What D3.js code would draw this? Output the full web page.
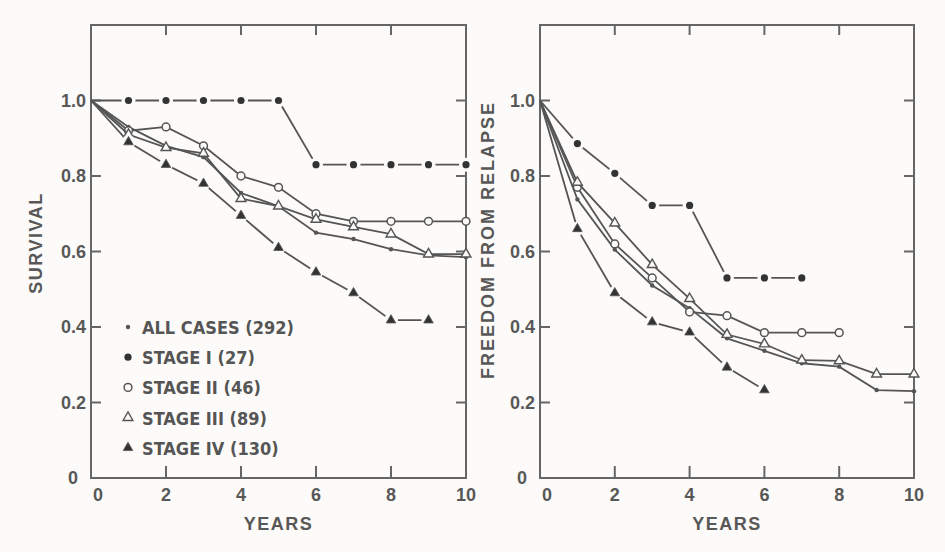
<!DOCTYPE html>
<html>
<head>
<meta charset="utf-8">
<script src="https://cdn.jsdelivr.net/npm/d3@7"></script>
<style>
  body { margin: 0; background: #fdfbf9; }
  svg { display: block; }
  .lbl { font-family: "Liberation Sans", Arial, sans-serif; font-weight: bold; fill: #585858; }
  .leg { font-family: "DejaVu Sans Condensed", sans-serif; font-weight: bold; fill: #555; }
</style>
</head>
<body>
<svg id="chart" width="945" height="552"></svg>
<script>
// years after diagnosis
const years = [0, 1, 2, 3, 4, 5, 6, 7, 8, 9, 10];
const xTicks = [0, 2, 4, 6, 8, 10];
const yTicks = [0, 0.2, 0.4, 0.6, 0.8, 1.0];

// survival (left panel), null = no point
const survAll = [1.0, 0.93, 0.88, 0.85, 0.755, 0.72, 0.65, 0.633, 0.606, 0.59, 0.585];
const survI   = [1.0, 1.0, 1.0, 1.0, 1.0, 1.0, 0.83, 0.83, 0.83, 0.83, 0.83];
const survII  = [1.0, 0.92, 0.93, 0.88, 0.80, 0.77, 0.70, 0.68, 0.68, 0.68, 0.68];
const survIII = [1.0, 0.91, 0.875, 0.86, 0.74, 0.72, 0.685, 0.665, 0.646, 0.593, 0.593];
const survIV  = [1.0, 0.89, 0.83, 0.78, 0.695, 0.61, 0.545, 0.49, 0.418, 0.418, null];

// freedom from relapse (right panel)
const relAll = [1.0, 0.738, 0.605, 0.51, 0.45, 0.37, 0.337, 0.304, 0.295, 0.233, 0.23];
const relI   = [1.0, 0.886, 0.807, 0.722, 0.722, 0.53, 0.53, 0.53, null, null, null];
const relII  = [1.0, 0.77, 0.62, 0.53, 0.44, 0.43, 0.385, 0.385, 0.385, null, null];
const relIII = [1.0, 0.783, 0.675, 0.565, 0.475, 0.38, 0.355, 0.312, 0.31, 0.275, 0.275];
const relIV  = [1.0, 0.66, 0.49, 0.413, 0.386, 0.293, 0.233, null, null, null, null];

const legendLabels = ["ALL CASES (292)", "STAGE I (27)", "STAGE II (46)", "STAGE III (89)", "STAGE IV (130)"];
const markerKinds  = ["dot", "disc", "circle", "triangle", "filledTriangle"];

const ink = "#555";
const paper = "#fdfbf9";
const svg = d3.select("#chart");

function drawMarker(g, kind, cx, cy, halo) {
  if (halo) {
    g.append("circle").attr("cx", cx).attr("cy", cy).attr("r", 7).attr("fill", paper);
  }
  if (kind === "dot") {
    g.append("circle").attr("cx", cx).attr("cy", cy).attr("r", 2.2).attr("fill", ink);
  } else if (kind === "disc") {
    g.append("circle").attr("cx", cx).attr("cy", cy).attr("r", 3.6).attr("fill", "#333");
  } else if (kind === "circle") {
    g.append("circle").attr("cx", cx).attr("cy", cy).attr("r", 3.9)
      .attr("fill", paper).attr("stroke", ink).attr("stroke-width", 1.5);
  } else {
    const sym = d3.symbol().type(d3.symbolTriangle).size(kind === "triangle" ? 42 : 40);
    g.append("path").attr("d", sym()).attr("transform", `translate(${cx},${cy})`)
      .attr("fill", kind === "triangle" ? paper : "#333")
      .attr("stroke", ink).attr("stroke-width", kind === "triangle" ? 1.4 : 0.8);
  }
}

function drawPanel(cfg) {
  const x = d3.scaleLinear().domain([0, 10]).range([cfg.left, cfg.right]);
  const y = d3.scaleLinear().domain([0, 1.2]).range([478, 25]);
  const g = svg.append("g");
  const tick = 10;

  // frame
  g.append("rect").attr("x", cfg.left).attr("y", y(1.2))
    .attr("width", cfg.right - cfg.left).attr("height", y(0) - y(1.2))
    .attr("fill", "none").attr("stroke", "#666").attr("stroke-width", 2);

  // x axis and mirrored top ticks
  const inner = xTicks.filter(d => d > 0 && d < 10);
  g.selectAll(".xb").data(inner).join("line")
    .attr("x1", d => x(d)).attr("x2", d => x(d))
    .attr("y1", y(0)).attr("y2", y(0) - tick - 2)
    .attr("stroke", "#666").attr("stroke-width", 2);
  g.selectAll(".xt").data(inner).join("line")
    .attr("x1", d => x(d)).attr("x2", d => x(d))
    .attr("y1", y(1.2)).attr("y2", y(1.2) + tick)
    .attr("stroke", "#666").attr("stroke-width", 2);
  g.selectAll(".xl").data(xTicks).join("text").attr("class", "lbl")
    .attr("x", d => d === 0 ? x(d) + 7 : x(d)).attr("y", y(0) + 23)
    .attr("text-anchor", "middle").attr("font-size", 18).text(d => d);

  // y axis and mirrored right ticks
  const yin = yTicks.filter(d => d > 0);
  g.selectAll(".yl").data(yin).join("line")
    .attr("x1", cfg.left).attr("x2", cfg.left + tick)
    .attr("y1", d => y(d)).attr("y2", d => y(d))
    .attr("stroke", "#666").attr("stroke-width", 2);
  g.selectAll(".yr").data(yin).join("line")
    .attr("x1", cfg.right).attr("x2", cfg.right - tick)
    .attr("y1", d => y(d)).attr("y2", d => y(d))
    .attr("stroke", "#666").attr("stroke-width", 2);
  g.selectAll(".ytl").data(yTicks).join("text").attr("class", "lbl")
    .attr("x", d => d === 0 ? cfg.left - 13 : cfg.left - 5).attr("y", d => y(d) + 6)
    .attr("text-anchor", "end").attr("font-size", 18)
    .text(d => d === 0 ? "0" : d3.format(".1f")(d));

  // axis titles
  g.append("text").attr("class", "lbl")
    .attr("x", (cfg.left + cfg.right) / 2).attr("y", 530)
    .attr("text-anchor", "middle").attr("font-size", 18).attr("letter-spacing", 1.5).text("YEARS");
  g.append("text").attr("class", "lbl")
    .attr("transform", `translate(${cfg.titleX},${cfg.titleY}) rotate(-90)`)
    .attr("text-anchor", "middle").attr("font-size", cfg.titleSize).attr("letter-spacing", cfg.titleSpacing)
    .text(cfg.title);

  // series
  const line = d3.line().defined(d => d.v !== null).x(d => x(d.t)).y(d => y(d.v));
  cfg.series.forEach((vals, i) => {
    const pts = years.map((t, j) => ({ t, v: vals[j] }));
    const sg = g.append("g");
    sg.append("path").datum(pts).attr("d", line)
      .attr("fill", "none").attr("stroke", ink).attr("stroke-width", 1.8);
    const halo = i === 1 || i === 4;
    pts.filter(d => d.v !== null && d.t > 0)
      .forEach(d => drawMarker(sg, markerKinds[i], x(d.t), y(d.v), halo));
  });
}

drawPanel({
  left: 91, right: 466, title: "SURVIVAL", titleX: 42, titleY: 243,
  titleSize: 18, titleSpacing: 1.5,
  series: [survAll, survI, survII, survIII, survIV]
});
drawPanel({
  left: 540, right: 914, title: "FREEDOM FROM RELAPSE", titleX: 494, titleY: 240,
  titleSize: 18, titleSpacing: 2,
  series: [relAll, relI, relII, relIII, relIV]
});

// legend inside the left panel
const leg = svg.append("g");
legendLabels.forEach((lab, i) => {
  const cy = 327 + i * 30.2;
  drawMarker(leg, markerKinds[i], 128, cy, false);
  leg.append("text").attr("class", "leg")
    .attr("x", 142).attr("y", cy + 7).attr("font-size", 18).attr("letter-spacing", 0)
    .text(lab);
});
</script>
</body>
</html>
